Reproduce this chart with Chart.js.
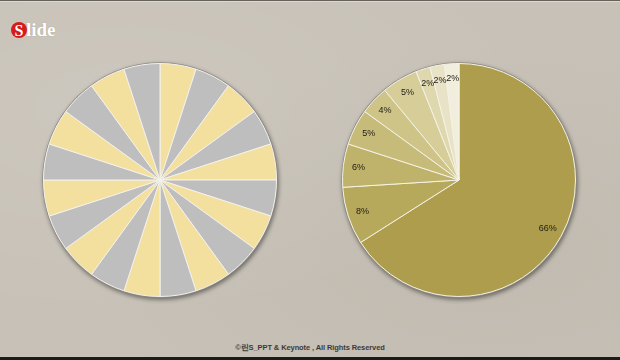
<!DOCTYPE html>
<html>
<head>
<meta charset="utf-8">
<script src="https://cdn.jsdelivr.net/npm/chart.js@4"></script>
<style>
  html, body { margin: 0; padding: 0; }
  body {
    width: 620px; height: 360px; overflow: hidden; position: relative;
    background-color: #c7c1b7;
    background-image:
      radial-gradient(ellipse at 20% 30%, rgba(255,255,255,0.10), rgba(255,255,255,0) 60%),
      radial-gradient(ellipse at 80% 70%, rgba(120,110,95,0.08), rgba(0,0,0,0) 60%);
  }
  .topline { position: absolute; left: 0; top: 0; width: 620px; height: 1px; background: #66625b; }
  .topline2 { position: absolute; left: 0; top: 1px; width: 620px; height: 1px; background: #ddd8cf; }
  .bottombar { position: absolute; left: 0; top: 357px; width: 620px; height: 3px; background: #1b1b1b; }
  .logo { position: absolute; left: 11px; top: 19px; height: 22px; }
  .logo .dot {
    position: absolute; left: 0; top: 3px; width: 16px; height: 16px; border-radius: 50%;
    background: #d71a1a; color: #fff; font: bold 16px "Liberation Serif", serif;
    text-align: center; line-height: 17px;
  }
  .logo .txt {
    position: absolute; left: 15px; top: 0; color: #fff;
    font: bold 19px "Liberation Serif", serif; line-height: 22px;
    text-shadow: 0 0 1px rgba(0,0,0,0.25);
  }
  .footer {
    position: absolute; left: 0; width: 620px; top: 343px; text-align: center;
    font: bold 7.5px "Liberation Sans", Arial, sans-serif; color: #3c3a36;
    letter-spacing: -0.1px;
  }
  .pie { position: absolute; top: 55px; width: 250px; height: 250px; }
</style>
</head>
<body>
<div class="topline"></div>
<div class="topline2"></div>
<div class="logo"><div class="dot">S</div><div class="txt">lide</div></div>

<div class="pie" style="left:35px"><canvas id="sunburst" width="250" height="250"></canvas></div>
<div class="pie" style="left:334px"><canvas id="share" width="250" height="250"></canvas></div>

<div class="footer">©린S_PPT &amp; Keynote , All Rights Reserved</div>
<div class="bottombar"></div>

<script>
// left pie: 20 equal rays
const sunburstValues = [1, 1, 1, 1, 1, 1, 1, 1, 1, 1, 1, 1, 1, 1, 1, 1, 1, 1, 1, 1];
const sunburstColors = ['#f3df9e', '#bfbebe', '#f3df9e', '#bfbebe', '#f3df9e', '#bfbebe', '#f3df9e', '#bfbebe', '#f3df9e', '#bfbebe',
                        '#f3df9e', '#bfbebe', '#f3df9e', '#bfbebe', '#f3df9e', '#bfbebe', '#f3df9e', '#bfbebe', '#f3df9e', '#bfbebe'];

// right pie: percentages, clockwise from 12 o'clock
const shareLabels = ['66%', '8%', '6%', '5%', '4%', '5%', '2%', '2%', '2%'];
const shareValues = [66, 8, 6, 5, 4, 5, 2, 2, 2];
const shareColors = ['#ad9d4d', '#b7a95c', '#bfb26b', '#c7bb7a', '#cec488', '#d6cd99', '#dfd8af', '#e8e3c6', '#f1eedd'];

// soft shadow + thin grey rim behind the pie
const rimShadow = {
    id: 'rimShadow',
    beforeDatasetsDraw(chart) {
        const arc = chart.getDatasetMeta(0).data[0];
        if (!arc) return;
        const ctx = chart.ctx;
        ctx.save();
        ctx.shadowColor = 'rgba(0,0,0,0.45)';
        ctx.shadowBlur = 4;
        ctx.shadowOffsetX = 1;
        ctx.shadowOffsetY = 2;
        ctx.beginPath();
        ctx.arc(arc.x, arc.y, arc.outerRadius + 1.2, 0, Math.PI * 2);
        ctx.fillStyle = '#8e8b85';
        ctx.fill();
        ctx.restore();
    }
};

// percent labels inside the slices
const sliceLabels = {
    id: 'sliceLabels',
    afterDatasetsDraw(chart) {
        const ctx = chart.ctx;
        const meta = chart.getDatasetMeta(0);
        ctx.save();
        ctx.font = '9px "Liberation Sans", Arial, sans-serif';
        ctx.fillStyle = '#1f1c16';
        ctx.textAlign = 'center';
        ctx.textBaseline = 'middle';
        meta.data.forEach((arc, i) => {
            const mid = (arc.startAngle + arc.endAngle) / 2;
            const r = arc.outerRadius * 0.87;
            ctx.fillText(chart.data.labels[i], arc.x + Math.cos(mid) * r, arc.y + Math.sin(mid) * r);
        });
        ctx.restore();
    }
};

const baseOptions = {
    responsive: false,
    animation: false,
    layout: { padding: 8 },
    plugins: {
        legend: { display: false },
        tooltip: { enabled: false }
    },
    events: []
};

new Chart(document.getElementById('sunburst').getContext('2d'), {
    type: 'pie',
    data: {
        labels: sunburstValues.map((v, i) => 'ray ' + (i + 1)),
        datasets: [{
            data: sunburstValues,
            backgroundColor: sunburstColors,
            borderColor: '#f4f2ec',
            borderWidth: 1
        }]
    },
    options: baseOptions,
    plugins: [rimShadow]
});

new Chart(document.getElementById('share').getContext('2d'), {
    type: 'pie',
    data: {
        labels: shareLabels,
        datasets: [{
            data: shareValues,
            backgroundColor: shareColors,
            borderColor: '#f6f3e6',
            borderWidth: 1
        }]
    },
    options: baseOptions,
    plugins: [rimShadow, sliceLabels]
});
</script>
</body>
</html>
